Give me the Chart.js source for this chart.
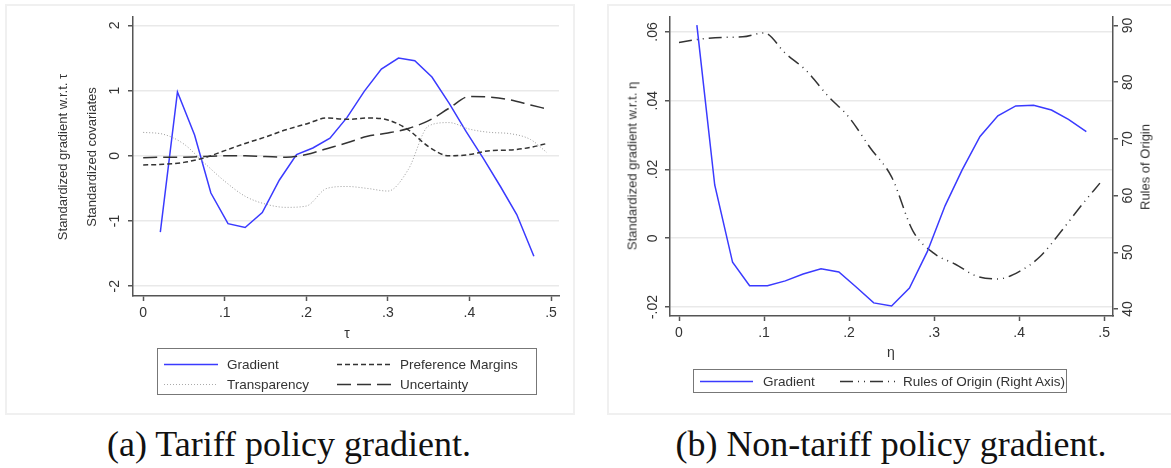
<!DOCTYPE html>
<html>
<head>
<meta charset="utf-8">
<script src="https://cdn.jsdelivr.net/npm/chart.js@4.4.1/dist/chart.umd.min.js"></script>
<style>
  body { margin: 0; width: 1171px; height: 468px; background: #fff; position: relative; overflow: hidden; font-family: "Liberation Sans", Arial, sans-serif; color: #333; }
  .panel { position: absolute; box-sizing: border-box; border: 2px solid #f0f0f0; }
  canvas { position: absolute; }
  .ytitle { position: absolute; font-size: 13px; white-space: nowrap; transform: translate(-50%, -50%) rotate(-90deg); }
  .xtitle { position: absolute; font-size: 14px; transform: translate(-50%, -50%); }
  .legend { position: absolute; box-sizing: border-box; border: 1px solid #777; background: #fff; font-size: 13.5px; }
  .legend .item { position: absolute; white-space: nowrap; transform: translateY(-50%); }
  .legend svg { position: absolute; }
  .caption { position: absolute; font-family: "Liberation Serif", "DejaVu Serif", serif; font-size: 36px; line-height: 36px; color: #111; white-space: nowrap; transform: translateX(-50%); }
</style>
</head>
<body>
<div class="panel" style="left:5px; top:4px; width:570px; height:411px;"></div>
<div class="panel" style="left:607px; top:4px; width:600px; height:411px;"></div>

<canvas id="tariffChart" width="570" height="411" style="left:5px; top:4px;"></canvas>
<canvas id="ntmChart" width="564" height="411" style="left:607px; top:4px;"></canvas>

<div class="ytitle" style="left:62px; top:157px;">Standardized gradient w.r.t. τ</div>
<div class="ytitle" style="left:91px; top:157px;">Standardized covariates</div>
<div class="xtitle" style="left:347px; top:333px;">τ</div>

<div class="ytitle" style="left:632px; top:166px;">Standardized gradient w.r.t. η</div>
<div class="ytitle" style="left:1145px; top:167px;">Rules of Origin</div>
<div class="xtitle" style="left:891px; top:352px;">η</div>

<div class="legend" style="left:157px; top:348px; width:380px; height:47px;">
  <svg style="left:6px; top:14px;" width="54" height="3"><line x1="0" y1="1.5" x2="54" y2="1.5" stroke="#3a3aff" stroke-width="1.5"/></svg>
  <div class="item" style="left:69px; top:15px;">Gradient</div>
  <svg style="left:179px; top:14px;" width="54" height="3"><line x1="0" y1="1.5" x2="54" y2="1.5" stroke="#333" stroke-width="1.5" stroke-dasharray="5 3"/></svg>
  <div class="item" style="left:242px; top:15px;">Preference Margins</div>
  <svg style="left:6px; top:34px;" width="54" height="3"><line x1="0" y1="1.5" x2="54" y2="1.5" stroke="#aaa" stroke-width="1" stroke-dasharray="1 2"/></svg>
  <div class="item" style="left:69px; top:35px;">Transparency</div>
  <svg style="left:179px; top:34px;" width="54" height="3"><line x1="0" y1="1.5" x2="54" y2="1.5" stroke="#333" stroke-width="1.5" stroke-dasharray="14 6"/></svg>
  <div class="item" style="left:242px; top:35px;">Uncertainty</div>
</div>

<div class="legend" style="left:693px; top:369px; width:374px; height:24px;">
  <svg style="left:6px; top:10px;" width="53" height="3"><line x1="0" y1="1.5" x2="53" y2="1.5" stroke="#3a3aff" stroke-width="1.5"/></svg>
  <div class="item" style="left:69px; top:11px;">Gradient</div>
  <svg style="left:146px; top:10px;" width="58" height="3"><line x1="0" y1="1.5" x2="58" y2="1.5" stroke="#333" stroke-width="1.5" stroke-dasharray="13 5 1 5 1 5"/></svg>
  <div class="item" style="left:209px; top:11px;">Rules of Origin (Right Axis)</div>
</div>

<div class="caption" style="left:289px; top:426px;">(a) Tariff policy gradient.</div>
<div class="caption" style="left:891px; top:426px;">(b) Non-tariff policy gradient.</div>

<script>
// tick labels
const tauTicks = [0, 0.1, 0.2, 0.3, 0.4, 0.5];
const tariffYTicks = [-2, -1, 0, 1, 2];
const ntmYTicks = [-0.02, 0, 0.02, 0.04, 0.06];
const originTicks = [40, 50, 60, 70, 80, 90];

// x positions of the gradient points and of the smoothed covariate curves
const gradX = [0.021, 0.042, 0.063, 0.083, 0.104, 0.125, 0.146, 0.167, 0.188, 0.208, 0.229, 0.25,
               0.271, 0.292, 0.313, 0.333, 0.354, 0.375, 0.396, 0.417, 0.438, 0.458, 0.479];
const covX = [0, 0.025, 0.05, 0.075, 0.1, 0.125, 0.15, 0.175, 0.2, 0.225, 0.25, 0.275,
              0.3, 0.325, 0.35, 0.375, 0.4, 0.425, 0.45, 0.475, 0.495];

// (a) tariff policy
const tariffGradient = [-1.17, 0.98, 0.32, -0.57, -1.04, -1.10, -0.87, -0.37, 0.02, 0.12, 0.27, 0.59,
                        0.99, 1.33, 1.50, 1.46, 1.21, 0.81, 0.37, -0.04, -0.47, -0.90, -1.54];
const prefMargins = [-0.14, -0.13, -0.10, -0.03, 0.08, 0.19, 0.29, 0.40, 0.49, 0.58, 0.56, 0.58,
                     0.55, 0.40, 0.14, 0.00, 0.02, 0.08, 0.09, 0.13, 0.19];
const transparency = [0.36, 0.33, 0.18, -0.11, -0.39, -0.62, -0.74, -0.79, -0.77, -0.50, -0.47, -0.50,
                      -0.54, -0.21, 0.46, 0.51, 0.41, 0.36, 0.34, 0.25, 0.05];
const uncertainty = [-0.03, -0.02, -0.02, -0.01, 0.00, 0.00, -0.01, -0.02, 0.02, 0.11, 0.20, 0.30,
                     0.35, 0.42, 0.54, 0.73, 0.91, 0.90, 0.86, 0.78, 0.72];

// (b) non-tariff policy
const ntmGradient = [0.062, 0.0155, -0.007, -0.0138, -0.0138, -0.0124, -0.0104, -0.0089, -0.0098, -0.0141,
                     -0.0188, -0.0197, -0.0145, -0.0039, 0.0095, 0.0199, 0.0296, 0.0356, 0.0385, 0.0387,
                     0.0373, 0.0346, 0.031];
const rulesOfOrigin = [87.0, 87.6, 87.9, 88.0, 88.7, 85.1, 82.0, 77.6, 73.8, 68.4, 63.3, 53.8,
                       49.8, 47.9, 45.8, 45.3, 46.6, 49.3, 53.8, 58.6, 62.2];

const BLUE = '#3a3aff';
const DARK = '#333';
const AXIS = '#555';
const GRID = '#e9e9e9';
const FONT = '"Liberation Sans", Arial, sans-serif';

function fmt(v) {
  if (v === 0) return '0';
  return String(v).replace(/^(-?)0\./, '$1.');
}

function pts(xs, ys) {
  return xs.map((x, i) => ({ x: x, y: ys[i] }));
}

function fixedTicks(arr) {
  return scale => { scale.ticks = arr.map(v => ({ value: v })); };
}

// y tick labels in Stata are turned 90 degrees
const rotatedTicks = {
  id: 'rotatedTicks',
  afterDraw(chart, args, opts) {
    const ctx = chart.ctx;
    Object.values(chart.scales).forEach(scale => {
      if (scale.axis !== 'y') return;
      const onRight = scale.position === 'right';
      const x = onRight ? scale.left + (opts.rightGap || 15) : scale.right - (opts.leftGap || 18);
      ctx.save();
      ctx.font = '14px ' + FONT;
      ctx.fillStyle = DARK;
      ctx.textAlign = 'center';
      ctx.textBaseline = 'middle';
      scale.ticks.forEach(t => {
        ctx.save();
        ctx.translate(x, scale.getPixelForValue(t.value));
        ctx.rotate(-Math.PI / 2);
        ctx.fillText(fmt(t.value), 0, 0);
        ctx.restore();
      });
      ctx.restore();
    });
  }
};

function xScale(min, max, height) {
  return {
    type: 'linear', min: min, max: max,
    afterBuildTicks: fixedTicks(tauTicks),
    afterFit: s => { s.height = height; },
    grid: { drawOnChartArea: false, tickLength: 5, tickColor: AXIS, tickWidth: 1.5 },
    border: { color: AXIS, width: 1.5 },
    ticks: { color: DARK, font: { family: FONT, size: 14 }, padding: 4, maxRotation: 0, callback: v => fmt(v) }
  };
}

function yScale(min, max, ticks, width, position, onArea) {
  return {
    type: 'linear', min: min, max: max, position: position,
    afterBuildTicks: fixedTicks(ticks),
    afterFit: s => { s.width = width; },
    grid: { drawOnChartArea: onArea, color: GRID, lineWidth: 1.5, tickLength: 5, tickColor: AXIS, tickWidth: 1.5 },
    border: { color: AXIS, width: 1.5 },
    ticks: { display: false }
  };
}

const common = {
  responsive: false,
  animation: false,
  devicePixelRatio: 1,
  elements: { point: { radius: 0 } },
  plugins: { legend: { display: false }, tooltip: { enabled: false } }
};

new Chart(document.getElementById('tariffChart').getContext('2d'), {
  type: 'line',
  data: {
    datasets: [
      { label: 'Transparency', data: pts(covX, transparency), borderColor: '#999', borderWidth: 1,
        borderDash: [1, 2], cubicInterpolationMode: 'monotone' },
      { label: 'Preference Margins', data: pts(covX, prefMargins), borderColor: DARK, borderWidth: 1.5,
        borderDash: [5, 3], cubicInterpolationMode: 'monotone' },
      { label: 'Uncertainty', data: pts(covX, uncertainty), borderColor: DARK, borderWidth: 1.5,
        borderDash: [14, 6], cubicInterpolationMode: 'monotone' },
      { label: 'Gradient', data: pts(gradX, tariffGradient), borderColor: BLUE, borderWidth: 1.5, tension: 0 }
    ]
  },
  options: Object.assign({}, common, {
    layout: { padding: { left: 0, top: 13, right: 16, bottom: 0 } },
    scales: {
      x: xScale(-0.0125, 0.5098, 119),
      y: yScale(-2.15, 2.13, tariffYTicks, 128, 'left', true)
    },
    plugins: Object.assign({}, common.plugins, { rotatedTicks: { leftGap: 18 } })
  }),
  plugins: [rotatedTicks]
});

new Chart(document.getElementById('ntmChart').getContext('2d'), {
  type: 'line',
  data: {
    datasets: [
      { label: 'Gradient', data: pts(gradX, ntmGradient), borderColor: BLUE, borderWidth: 1.5,
        tension: 0, yAxisID: 'y' },
      { label: 'Rules of Origin (Right Axis)', data: pts(covX, rulesOfOrigin), borderColor: DARK,
        borderWidth: 1.5, borderDash: [13, 5, 1, 5, 1, 5], cubicInterpolationMode: 'monotone', yAxisID: 'y2' }
    ]
  },
  options: Object.assign({}, common, {
    layout: { padding: { left: 0, top: 13, right: 0, bottom: 0 } },
    scales: {
      x: xScale(-0.0106, 0.5104, 99),
      y: yScale(-0.02262, 0.06436, ntmYTicks, 63, 'left', true),
      y2: yScale(38.77, 91.5, originTicks, 58, 'right', false)
    },
    plugins: Object.assign({}, common.plugins, { rotatedTicks: { leftGap: 17, rightGap: 15 } })
  }),
  plugins: [rotatedTicks]
});
</script>
</body>
</html>
